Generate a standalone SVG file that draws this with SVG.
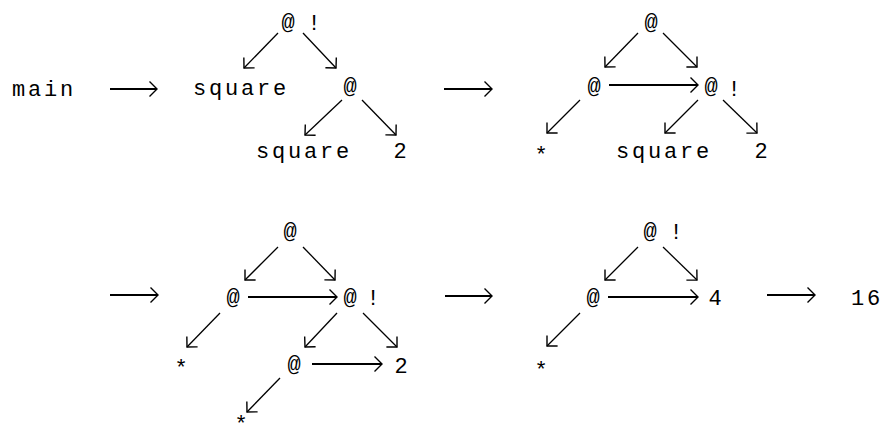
<svg xmlns="http://www.w3.org/2000/svg" width="888" height="438" viewBox="0 0 888 438">
<style>
text{font-family:"Liberation Mono","DejaVu Sans Mono",monospace;font-size:22px;fill:#000}
.w{letter-spacing:2.8px}
.c{text-anchor:middle}
line{stroke:#000;stroke-width:1.3;fill:none}
line.h{stroke-width:1.8}
</style>
<defs>
<marker id="ah" markerUnits="userSpaceOnUse" markerWidth="20" markerHeight="20" refX="10" refY="10" orient="auto" overflow="visible">
<path d="M2.5,2.5 L10,10 L2.5,17.5" fill="none" stroke="#000" stroke-width="1.4"/>
</marker>
</defs>
<rect width="888" height="438" fill="#fff"/>
<g id="connectors">
<line class="h" x1="110" y1="89" x2="157" y2="89" marker-end="url(#ah)"/>
<line class="h" x1="444" y1="89" x2="492" y2="89" marker-end="url(#ah)"/>
<line class="h" x1="110" y1="295" x2="158" y2="295" marker-end="url(#ah)"/>
<line class="h" x1="445" y1="296" x2="492" y2="296" marker-end="url(#ah)"/>
<line class="h" x1="767" y1="295" x2="815" y2="295" marker-end="url(#ah)"/>
<line x1="278" y1="33" x2="244" y2="68" marker-end="url(#ah)"/>
<line x1="303" y1="33" x2="336" y2="68" marker-end="url(#ah)"/>
<line x1="342" y1="100" x2="305" y2="135" marker-end="url(#ah)"/>
<line x1="362" y1="100" x2="396" y2="135" marker-end="url(#ah)"/>
<line x1="638" y1="33" x2="605" y2="67" marker-end="url(#ah)"/>
<line x1="663" y1="33" x2="697" y2="67" marker-end="url(#ah)"/>
<line class="h" x1="609" y1="85" x2="698" y2="85" marker-end="url(#ah)"/>
<line x1="580" y1="100" x2="547" y2="133" marker-end="url(#ah)"/>
<line x1="698" y1="100" x2="665" y2="133" marker-end="url(#ah)"/>
<line x1="723" y1="100" x2="757" y2="133" marker-end="url(#ah)"/>
<line x1="278" y1="247" x2="245" y2="280" marker-end="url(#ah)"/>
<line x1="303" y1="247" x2="335" y2="280" marker-end="url(#ah)"/>
<line class="h" x1="248" y1="297" x2="337" y2="297" marker-end="url(#ah)"/>
<line x1="220" y1="313" x2="187" y2="347" marker-end="url(#ah)"/>
<line x1="337" y1="313" x2="305" y2="347" marker-end="url(#ah)"/>
<line x1="363" y1="313" x2="397" y2="347" marker-end="url(#ah)"/>
<line class="h" x1="312" y1="364" x2="382" y2="364" marker-end="url(#ah)"/>
<line x1="280" y1="378" x2="247" y2="412" marker-end="url(#ah)"/>
<line x1="638" y1="247" x2="605" y2="280" marker-end="url(#ah)"/>
<line x1="663" y1="247" x2="697" y2="280" marker-end="url(#ah)"/>
<line class="h" x1="608" y1="297" x2="698" y2="297" marker-end="url(#ah)"/>
<line x1="580" y1="313" x2="547" y2="346" marker-end="url(#ah)"/>
</g>
<g id="main"><text class="w" x="12" y="96">main</text></g>
<g id="p1-root"><text class="c" x="288" y="28.5">@</text><text class="c" x="314" y="30">!</text></g>
<g id="p1-square"><text class="w" x="193" y="95">square</text></g>
<g id="p1-app"><text class="c" x="350" y="93">@</text></g>
<g id="p1-square2"><text class="w" x="256" y="158">square</text></g>
<g id="p1-two"><text class="c" x="400" y="158">2</text></g>
<g id="p2-root"><text class="c" x="651" y="28.5">@</text></g>
<g id="p2-left"><text class="c" x="594" y="93">@</text></g>
<g id="p2-right"><text class="c" x="711" y="93">@</text><text class="c" x="734" y="96">!</text></g>
<g id="p2-star"><text class="c" x="541" y="162">*</text></g>
<g id="p2-square"><text class="w" x="616" y="158">square</text></g>
<g id="p2-two"><text class="c" x="761" y="158">2</text></g>
<g id="p3-root"><text class="c" x="290" y="238">@</text></g>
<g id="p3-left"><text class="c" x="233" y="304">@</text></g>
<g id="p3-right"><text class="c" x="350" y="304">@</text><text class="c" x="373" y="305">!</text></g>
<g id="p3-star"><text class="c" x="181" y="375">*</text></g>
<g id="p3-low"><text class="c" x="294" y="371">@</text></g>
<g id="p3-two"><text class="c" x="401" y="373">2</text></g>
<g id="p3-star2"><text class="c" x="241" y="431">*</text></g>
<g id="p4-root"><text class="c" x="650" y="238">@</text><text class="c" x="676" y="239">!</text></g>
<g id="p4-left"><text class="c" x="593" y="304">@</text></g>
<g id="p4-four"><text class="c" x="715" y="305">4</text></g>
<g id="p4-star"><text class="c" x="541" y="377">*</text></g>
<g id="result"><text class="w" x="851" y="305">16</text></g>
</svg>
